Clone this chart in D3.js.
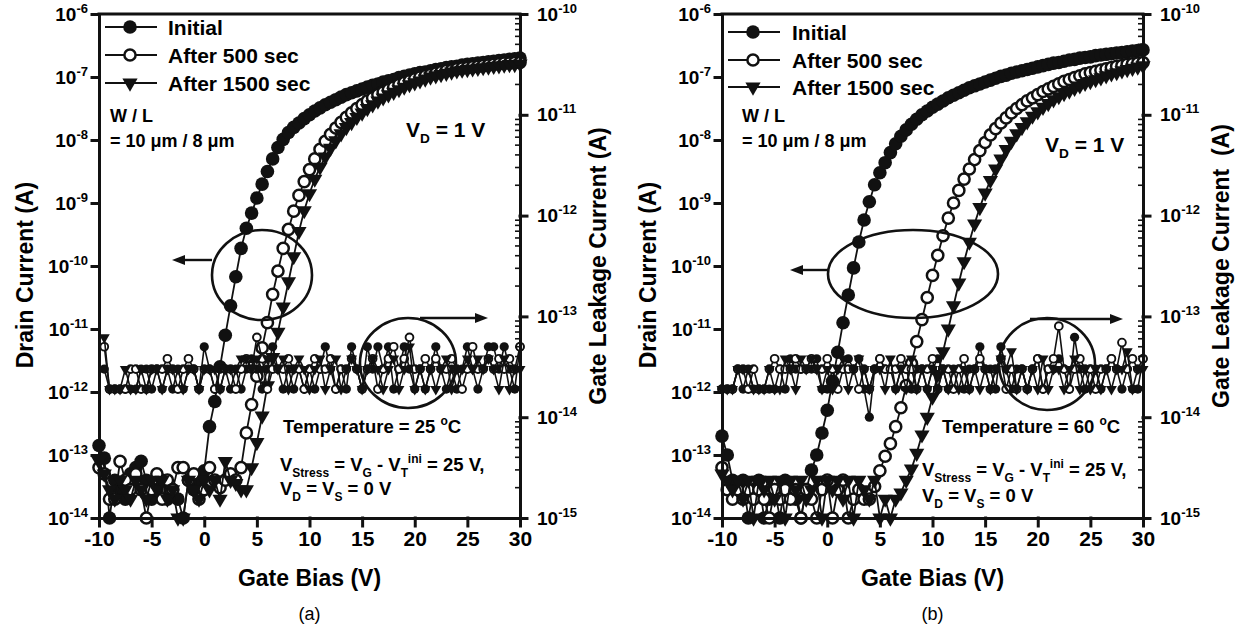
<!DOCTYPE html>
<html>
<head>
<meta charset="utf-8">
<script src="https://cdn.jsdelivr.net/npm/d3@7"></script>
<style>
  body { margin: 0; background: #fff; }
  svg { font-family: "Liberation Sans", Arial, sans-serif; font-weight: bold; }
</style>
</head>
<body>
<svg id="chart" width="1244" height="628"></svg>
<script>
// gate bias sweep (V)
const gateBias = [
  -10,-9.5,-9,-8.5,-8,-7.5,-7,-6.5,-6,-5.5,
  -5,-4.5,-4,-3.5,-3,-2.5,-2,-1.5,-1,-0.5,
  0,0.5,1,1.5,2,2.5,3,3.5,4,4.5,
  5,5.5,6,6.5,7,7.5,8,8.5,9,9.5,
  10,10.5,11,11.5,12,12.5,13,13.5,14,14.5,
  15,15.5,16,16.5,17,17.5,18,18.5,19,19.5,
  20,20.5,21,21.5,22,22.5,23,23.5,24,24.5,
  25,25.5,26,26.5,27,27.5,28,28.5,29,29.5,
  30];

// drain current, log10(A) -- panel (a), 25 C
const logIdInitialA = [
  -12.85,-13.05,-14.0,-13.4,-13.55,-13.7,-13.3,-13.2,-13.1,-13.4,
  -13.7,-13.55,-13.4,-13.7,-13.55,-13.7,-14.0,-13.4,-13.55,-13.4,
  -13.25,-12.55,-12.15,-11.6,-11.1,-10.63,-10.17,-9.72,-9.4,-9.16,
  -8.92,-8.7,-8.5,-8.3,-8.12,-7.99,-7.88,-7.8,-7.73,-7.66,
  -7.6,-7.54,-7.49,-7.44,-7.4,-7.36,-7.32,-7.28,-7.25,-7.22,
  -7.19,-7.16,-7.13,-7.11,-7.08,-7.06,-7.04,-7.01,-6.99,-6.97,
  -6.95,-6.93,-6.92,-6.9,-6.88,-6.87,-6.85,-6.84,-6.83,-6.81,
  -6.8,-6.79,-6.78,-6.77,-6.76,-6.75,-6.74,-6.73,-6.72,-6.71,
  -6.7];
const logId500A = [
  -13.2,-13.3,-13.7,-13.7,-13.1,-13.4,-13.55,-13.3,-13.55,-14.0,
  -13.55,-13.3,-13.7,-13.4,-13.55,-13.2,-13.2,-13.4,-13.3,-13.7,
  -13.55,-13.2,-13.4,-13.52,-13.4,-13.3,-13.4,-13.2,-12.65,-12.2,
  -11.75,-11.3,-10.9,-10.45,-10.08,-9.72,-9.42,-9.13,-8.88,-8.66,
  -8.47,-8.3,-8.15,-8.02,-7.91,-7.81,-7.72,-7.64,-7.57,-7.5,
  -7.44,-7.38,-7.33,-7.28,-7.24,-7.2,-7.16,-7.12,-7.09,-7.06,
  -7.03,-7.0,-6.98,-6.96,-6.94,-6.92,-6.9,-6.89,-6.87,-6.86,
  -6.85,-6.84,-6.83,-6.82,-6.81,-6.8,-6.79,-6.78,-6.78,-6.77,
  -6.77];
const logId1500A = [
  -13.1,-13.3,-13.55,-13.7,-13.4,-13.55,-13.7,-13.4,-13.55,-13.7,
  -13.4,-13.55,-13.4,-13.7,-13.55,-14.0,-14.0,-13.4,-13.55,-13.7,
  -13.4,-13.55,-13.4,-13.7,-13.1,-13.4,-13.45,-13.55,-13.55,-13.2,
  -12.8,-12.38,-11.9,-11.45,-11.05,-10.65,-10.25,-9.85,-9.45,-9.12,
  -8.85,-8.62,-8.43,-8.27,-8.13,-8.01,-7.9,-7.8,-7.72,-7.64,
  -7.57,-7.5,-7.44,-7.38,-7.33,-7.28,-7.24,-7.2,-7.16,-7.12,
  -7.09,-7.06,-7.03,-7.0,-6.98,-6.96,-6.94,-6.92,-6.9,-6.89,
  -6.88,-6.87,-6.86,-6.85,-6.84,-6.83,-6.82,-6.81,-6.8,-6.8,
  -6.79];

// drain current, log10(A) -- panel (b), 60 C
const logIdInitialB = [
  -12.7,-13.0,-13.4,-13.55,-13.4,-14.0,-13.55,-13.4,-14.0,-13.7,
  -13.55,-14.0,-13.4,-13.55,-13.7,-14.0,-13.55,-13.24,-13.0,-12.65,
  -12.29,-11.83,-11.37,-10.9,-10.46,-10.03,-9.62,-9.27,-8.98,-8.71,
  -8.52,-8.36,-8.2,-8.06,-7.94,-7.84,-7.75,-7.67,-7.6,-7.54,
  -7.48,-7.43,-7.38,-7.33,-7.29,-7.25,-7.21,-7.17,-7.14,-7.11,
  -7.08,-7.05,-7.02,-6.99,-6.97,-6.94,-6.92,-6.9,-6.88,-6.86,
  -6.84,-6.82,-6.8,-6.78,-6.77,-6.75,-6.73,-6.72,-6.7,-6.69,
  -6.68,-6.66,-6.65,-6.64,-6.63,-6.62,-6.61,-6.6,-6.59,-6.58,
  -6.57];
const logId500B = [
  -13.2,-13.55,-13.7,-13.55,-13.7,-13.55,-13.7,-13.55,-13.7,-14.0,
  -13.55,-13.7,-13.55,-13.7,-13.55,-14.0,-13.55,-13.7,-14.0,-13.55,
  -13.4,-14.0,-13.55,-13.4,-14.0,-13.7,-13.55,-13.7,-13.7,-13.5,
  -13.25,-13.02,-12.82,-12.55,-12.25,-11.9,-11.55,-11.2,-10.85,-10.5,
  -10.15,-9.83,-9.52,-9.24,-9.0,-8.8,-8.62,-8.46,-8.31,-8.17,
  -8.04,-7.92,-7.82,-7.73,-7.65,-7.57,-7.5,-7.44,-7.38,-7.33,
  -7.28,-7.23,-7.19,-7.15,-7.11,-7.07,-7.04,-7.01,-6.98,-6.95,
  -6.93,-6.91,-6.89,-6.87,-6.85,-6.83,-6.82,-6.8,-6.79,-6.78,
  -6.77];
const logId1500B = [
  -13.3,-13.4,-13.55,-13.4,-13.7,-13.4,-14.0,-13.4,-13.55,-13.4,
  -13.7,-13.4,-14.0,-13.4,-13.55,-13.4,-13.7,-13.55,-13.4,-14.0,
  -13.4,-13.55,-13.4,-13.7,-13.4,-14.0,-13.4,-13.55,-13.7,-13.4,
  -14.0,-13.7,-14.0,-13.7,-13.6,-13.4,-13.22,-12.97,-12.68,-12.4,
  -12.08,-11.72,-11.36,-11.0,-10.63,-10.27,-9.93,-9.62,-9.33,-9.07,
  -8.84,-8.64,-8.46,-8.3,-8.15,-8.02,-7.9,-7.8,-7.71,-7.62,
  -7.55,-7.48,-7.42,-7.36,-7.31,-7.26,-7.22,-7.18,-7.14,-7.1,
  -7.07,-7.04,-7.01,-6.98,-6.95,-6.93,-6.9,-6.88,-6.86,-6.84,
  -6.82];

// gate leakage current, in units of 1e-14 A (right axis)
const LEAK_UNIT = 1e-14;
const leakInitialA = [
  null,3.0,1.9,1.9,1.9,1.9,1.9,1.9,3.0,3.0,
  1.9,3.0,1.9,3.0,1.9,3.0,1.9,3.0,3.0,1.9,
  5.0,3.0,1.9,3.0,3.0,1.9,3.0,1.9,3.0,3.8,
  3.0,1.9,3.0,5.0,3.0,1.9,3.0,1.9,3.0,1.9,
  3.0,1.9,3.0,5.0,3.0,1.9,3.0,1.9,5.0,3.0,
  1.9,5.0,3.0,5.0,3.0,5.0,1.9,3.0,5.0,3.0,
  1.9,3.0,1.9,3.0,5.0,3.0,1.9,3.0,1.9,3.0,
  5.0,3.0,1.9,3.0,5.0,5.0,3.0,5.0,3.0,1.9,
  5.0];
const leak500A = [
  null,5.0,1.9,1.9,1.9,1.9,3.0,3.0,1.9,1.9,
  3.0,3.0,3.0,3.8,3.0,1.9,3.0,3.8,3.0,1.9,
  3.0,3.0,1.9,1.9,3.0,3.0,1.9,3.0,3.8,3.0,
  6.2,3.8,1.9,3.0,3.0,3.0,3.8,3.0,3.0,1.9,
  3.0,3.8,3.0,3.0,3.8,1.9,3.0,3.0,3.8,3.0,
  1.9,3.0,3.8,1.9,3.0,3.8,5.0,3.0,3.8,6.2,
  3.0,3.0,3.8,3.0,3.8,3.0,3.0,3.8,3.0,1.9,
  3.0,5.0,3.0,3.0,3.8,3.0,3.8,3.0,3.8,3.0,
  5.0];
const leak1500A = [
  null,6.2,1.9,1.9,1.9,3.0,1.9,1.9,3.0,1.9,
  3.0,3.0,1.9,3.0,3.0,3.0,1.9,3.0,3.0,1.9,
  3.0,3.0,3.0,1.9,3.0,3.0,3.0,3.8,3.8,3.0,
  3.8,3.0,3.8,3.8,3.0,3.8,1.9,3.0,3.8,3.0,
  1.9,3.0,3.8,1.9,3.0,3.8,1.9,3.0,3.8,3.0,
  1.9,3.0,3.8,3.0,1.9,3.0,3.8,1.9,3.0,5.0,
  1.9,3.0,1.9,3.0,1.9,3.0,3.8,1.9,3.0,3.0,
  3.8,3.0,3.8,3.0,3.8,3.0,1.9,3.8,1.9,3.0,
  3.0];
const leakInitialB = [
  1.9,1.9,1.9,3.0,1.9,3.0,1.9,1.9,1.9,1.9,
  1.9,3.0,1.9,3.8,3.0,3.0,3.0,3.0,3.8,1.9,
  1.9,3.0,3.0,3.0,3.8,3.0,3.8,1.9,1.0,3.0,
  3.8,3.0,3.0,1.9,3.0,3.0,1.9,3.0,3.0,1.9,
  3.0,3.8,3.0,1.9,3.0,3.0,1.9,3.0,3.0,5.0,
  3.0,3.0,1.9,5.0,3.0,1.9,3.0,3.0,1.9,3.0,
  3.8,1.9,3.0,3.0,3.8,3.0,1.9,6.2,3.0,1.9,
  3.0,3.0,1.9,3.0,3.8,3.0,1.9,3.0,1.9,1.9,
  3.8];
const leak500B = [
  1.9,1.9,1.9,3.0,3.0,1.9,3.0,1.9,1.9,3.0,
  3.8,3.0,3.0,3.0,3.8,3.0,3.0,3.8,3.0,3.0,
  3.8,3.0,1.9,3.0,3.0,3.0,1.9,3.0,1.9,3.0,
  3.8,3.0,3.0,3.0,3.8,3.0,3.0,1.9,3.0,3.0,
  3.8,1.9,3.0,3.0,1.9,3.0,3.8,1.9,3.0,3.8,
  3.0,1.9,3.0,3.8,1.9,3.0,1.9,3.0,1.9,3.0,
  3.8,1.9,3.0,3.8,8.0,3.0,1.9,3.0,3.8,3.0,
  3.0,1.9,3.0,3.0,3.8,3.0,5.5,3.0,3.8,3.0,
  3.8];
const leak1500B = [
  1.9,1.9,1.9,3.0,3.0,3.0,1.9,1.9,1.9,3.0,
  1.9,1.9,3.8,3.0,1.9,3.8,3.0,3.8,3.0,1.9,
  3.0,1.9,3.0,3.8,1.9,3.0,3.8,3.0,1.9,3.0,
  3.0,1.9,3.8,1.9,3.0,1.9,3.8,1.9,3.0,1.9,
  3.0,1.9,3.0,1.9,3.0,1.9,3.0,1.9,3.0,1.9,
  3.0,1.9,3.0,3.8,3.0,4.5,1.9,3.0,1.9,3.0,
  1.9,3.8,1.9,3.0,3.0,1.9,3.0,3.8,1.9,3.0,
  1.9,3.0,1.9,3.0,1.9,3.0,3.0,4.5,1.9,3.0,
  3.0];

const seriesNames = ["Initial", "After 500 sec", "After 1500 sec"];
const seriesMarks = ["filled", "open", "tri"];
const xTicks = [-10, -5, 0, 5, 10, 15, 20, 25, 30];
const drainTicks = [1e-14, 1e-13, 1e-12, 1e-11, 1e-10, 1e-9, 1e-8, 1e-7, 1e-6];
const leakTicks = [1e-15, 1e-14, 1e-13, 1e-12, 1e-11, 1e-10];

const panels = [
  { left: 99, tag: "(a)", temp: "25",
    drain: [logIdInitialA, logId500A, logId1500A],
    leak: [leakInitialA, leak500A, leak1500A],
    rightTitle: "Gate Leakage Current (A)",
    legend: { x1: 105, x2: 157, m: 130, tx: 168, rows: [27, 55, 83] },
    wl: [110, 122], vd: [406, 137], tp: [283, 433], st: [280, 471, 495],
    ellL: [262, 275, 50, 45], arrL: [212, 172, 260],
    ellR: [408, 363, 48, 45], arrR: [420, 488, 318] },
  { left: 722, tag: "(b)", temp: "60",
    drain: [logIdInitialB, logId500B, logId1500B],
    leak: [leakInitialB, leak500B, leak1500B],
    rightTitle: "Gate Leakage Current  (A)",
    legend: { x1: 728, x2: 780, m: 753, tx: 792, rows: [32, 60, 87] },
    wl: [742, 122], vd: [1045, 152], tp: [942, 433], st: [922, 476, 502],
    ellL: [913, 274, 85, 44], arrL: [828, 790, 270],
    ellR: [1047, 364, 48, 46], arrR: [1030, 1123, 319] }
];

const TOP = 14, BOTTOM = 518, PW = 421;
const svg = d3.select("#chart");
svg.append("rect").attr("width", 1244).attr("height", 628).attr("fill", "#fff");

// text with sub/superscript parts: [[text, "", "sub" or "sup"], ...]
function richText(g, x, y, parts, size, anchor) {
  const t = g.append("text").attr("x", x).attr("y", y)
    .attr("font-size", size).attr("text-anchor", anchor || "start");
  let cur = 0;
  parts.forEach(([s, kind]) => {
    const off = kind === "sub" ? 6 : kind === "sup" ? -8 : 0;
    const sp = t.append("tspan").attr("dy", off - cur).text(s);
    if (kind) sp.attr("font-size", size * 0.65);
    cur = off;
  });
  return t;
}

function marker(sel, kind, big) {
  if (kind === "tri") {
    sel.append("path")
      .attr("d", d3.symbol(d3.symbolTriangle, big ? 100 : 52)())
      .attr("transform", "rotate(180)")
      .attr("fill", "#111");
  } else if (kind === "open") {
    sel.append("circle").attr("r", big ? 5.6 : 3.9)
      .attr("fill", "#fff").attr("stroke", "#111").attr("stroke-width", big ? 2.5 : 1.9);
  } else {
    sel.append("circle").attr("r", big ? 6.8 : 4.6).attr("fill", "#111");
  }
}

function expLabels(axisG) {
  axisG.selectAll(".tick text").each(function(d) {
    const t = d3.select(this).text(null);
    t.append("tspan").text("10");
    t.append("tspan").attr("dy", -8).attr("font-size", 13)
      .text(Math.round(Math.log10(d)));
  });
}

function drawPanel(p) {
  const x = d3.scaleLinear().domain([-10, 30]).range([p.left, p.left + PW]);
  const yL = d3.scaleLog().domain([1e-14, 1e-6]).range([BOTTOM, TOP]);
  const yR = d3.scaleLog().domain([1e-15, 1e-10]).range([BOTTOM, TOP]);
  const g = svg.append("g");

  // drain current curves
  p.drain.forEach((vals, i) => {
    const pts = gateBias.map((v, j) => ({ v, id: Math.pow(10, vals[j]) }));
    g.append("path").datum(pts)
      .attr("fill", "none").attr("stroke", "#111").attr("stroke-width", 1.8)
      .attr("d", d3.line().x(d => x(d.v)).y(d => yL(d.id)));
    g.append("g").selectAll("g").data(pts).join("g")
      .attr("transform", d => `translate(${x(d.v)},${yL(d.id)})`)
      .each(function() { marker(d3.select(this), seriesMarks[i], true); });
  });

  // gate leakage curves
  p.leak.forEach((vals, i) => {
    const pts = gateBias.map((v, j) => ({ v, ig: vals[j] == null ? null : vals[j] * LEAK_UNIT }));
    g.append("path").datum(pts)
      .attr("fill", "none").attr("stroke", "#111").attr("stroke-width", 1.6)
      .attr("d", d3.line().defined(d => d.ig != null).x(d => x(d.v)).y(d => yR(d.ig)));
    g.append("g").selectAll("g").data(pts.filter(d => d.ig != null)).join("g")
      .attr("transform", d => `translate(${x(d.v)},${yR(d.ig)})`)
      .each(function() { marker(d3.select(this), seriesMarks[i], false); });
  });

  // axes
  const axStyle = a => {
    a.attr("font-family", null).attr("font-size", null);
    a.selectAll("path, line").attr("stroke", "#111").attr("stroke-width", 3)
      .attr("stroke-linecap", "square");
  };
  const xa = svg.append("g").attr("transform", `translate(0,${BOTTOM})`)
    .call(d3.axisBottom(x).tickValues(xTicks).tickSize(8).tickSizeOuter(0).tickPadding(5)
      .tickFormat(d => String(d)));
  axStyle(xa);
  xa.selectAll(".tick text").attr("font-size", 21);

  const la = svg.append("g").attr("transform", `translate(${p.left},0)`)
    .call(d3.axisLeft(yL).tickValues(drainTicks).tickSize(7).tickSizeOuter(0).tickPadding(4));
  axStyle(la);
  la.selectAll(".tick text").attr("font-size", 19);
  expLabels(la);

  const ra = svg.append("g").attr("transform", `translate(${p.left + PW},0)`)
    .call(d3.axisRight(yR).tickValues(leakTicks).tickSize(7).tickSizeOuter(0).tickPadding(10));
  axStyle(ra);
  ra.selectAll(".tick text").attr("font-size", 19);
  expLabels(ra);

  // right axis minor ticks (inward)
  const minors = [];
  leakTicks.slice(0, -1).forEach(d => { for (let k = 2; k <= 9; k++) minors.push(d * k); });
  ra.selectAll(".minor").data(minors).join("line").attr("class", "minor")
    .attr("x1", 0).attr("x2", -5).attr("y1", d => yR(d)).attr("y2", d => yR(d))
    .attr("stroke", "#111").attr("stroke-width", 1.6);

  svg.append("line").attr("x1", p.left).attr("x2", p.left + PW)
    .attr("y1", TOP).attr("y2", TOP).attr("stroke", "#111").attr("stroke-width", 3)
    .attr("stroke-linecap", "square");

  // axis titles
  const cx = p.left + PW / 2;
  svg.append("text").attr("x", cx).attr("y", 586).attr("text-anchor", "middle")
    .attr("font-size", 23).text("Gate Bias (V)");
  svg.append("text").attr("x", cx).attr("y", 620).attr("text-anchor", "middle")
    .attr("font-size", 18).attr("font-weight", "normal").text(p.tag);
  svg.append("text").attr("transform", `translate(${p.left - 66},275) rotate(-90)`)
    .attr("text-anchor", "middle").attr("font-size", 23).text("Drain Current (A)");
  svg.append("text").attr("transform", `translate(${p.left + PW + 86},266) rotate(-90)`)
    .attr("text-anchor", "middle").attr("font-size", 23)
    .style("white-space", "pre").text(p.rightTitle);

  // legend
  const lg = p.legend;
  seriesNames.forEach((name, i) => {
    const yy = lg.rows[i];
    svg.append("line").attr("x1", lg.x1).attr("x2", lg.x2).attr("y1", yy).attr("y2", yy)
      .attr("stroke", "#111").attr("stroke-width", 2);
    marker(svg.append("g").attr("transform", `translate(${lg.m},${yy})`), seriesMarks[i], true);
    svg.append("text").attr("x", lg.tx).attr("y", yy + 7.5).attr("font-size", 21).text(name);
  });

  // annotations
  svg.append("text").attr("x", p.wl[0]).attr("y", p.wl[1]).attr("font-size", 18).text("W / L");
  svg.append("text").attr("x", p.wl[0]).attr("y", p.wl[1] + 25).attr("font-size", 18)
    .text("= 10 \u03bcm / 8 \u03bcm");
  richText(svg, p.vd[0], p.vd[1], [["V", ""], ["D", "sub"], [" = 1 V", ""]], 21);
  richText(svg, p.tp[0], p.tp[1], [["Temperature = " + p.temp + " ", ""], ["o", "sup"], ["C", ""]], 18.5);
  richText(svg, p.st[0], p.st[1], [["V", ""], ["Stress", "sub"], [" = V", ""], ["G", "sub"],
    [" - V", ""], ["T", "sub"], ["ini", "sup"], [" = 25 V,", ""]], 18.5);
  richText(svg, p.st[0], p.st[2], [["V", ""], ["D", "sub"], [" = V", ""], ["S", "sub"], [" = 0 V", ""]], 18.5);

  [p.ellL, p.ellR].forEach(e => {
    svg.append("ellipse").attr("cx", e[0]).attr("cy", e[1]).attr("rx", e[2]).attr("ry", e[3])
      .attr("fill", "none").attr("stroke", "#111").attr("stroke-width", 2.6);
  });
  [p.arrL, p.arrR].forEach(a => {
    const [from, to, yy] = a;
    const dir = to > from ? 1 : -1;
    svg.append("line").attr("x1", from).attr("x2", to - dir * 8).attr("y1", yy).attr("y2", yy)
      .attr("stroke", "#111").attr("stroke-width", 2.4);
    svg.append("path")
      .attr("d", `M${to},${yy} L${to - dir * 13},${yy - 5} L${to - dir * 13},${yy + 5} Z`)
      .attr("fill", "#111");
  });
}

panels.forEach(drawPanel);
</script>
</body>
</html>
